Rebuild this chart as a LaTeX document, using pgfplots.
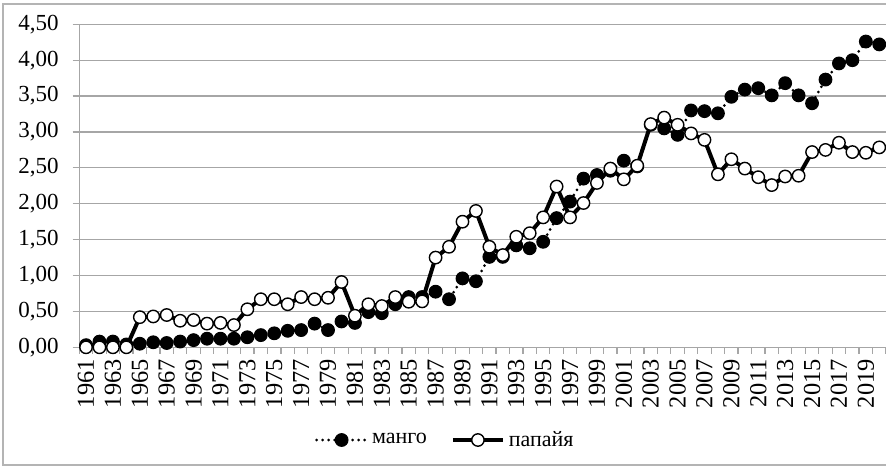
\documentclass[border=0pt]{standalone}
\usepackage{fontspec}
\setmainfont{Liberation Serif}
\usepackage{pgfplots}
\usepackage{pgfplotstable}
\pgfplotsset{compat=1.18}
\definecolor{gridgray}{RGB}{166,166,166}
\definecolor{framegray}{RGB}{180,180,180}
\pgfplotstableread{
year mango papaya
1961 0.03 0.00
1962 0.08 0.00
1963 0.08 0.00
1964 0.04 0.00
1965 0.05 0.42
1966 0.07 0.43
1967 0.06 0.45
1968 0.08 0.37
1969 0.10 0.38
1970 0.12 0.33
1971 0.12 0.34
1972 0.12 0.31
1973 0.14 0.53
1974 0.17 0.67
1975 0.195 0.67
1976 0.23 0.60
1977 0.24 0.70
1978 0.33 0.67
1979 0.24 0.69
1980 0.36 0.91
1981 0.34 0.44
1982 0.49 0.60
1983 0.475 0.575
1984 0.60 0.70
1985 0.70 0.635
1986 0.70 0.64
1987 0.775 1.25
1988 0.67 1.40
1989 0.96 1.75
1990 0.92 1.90
1991 1.26 1.40
1992 1.26 1.285
1993 1.42 1.54
1994 1.38 1.59
1995 1.47 1.81
1996 1.80 2.24
1997 2.03 1.81
1998 2.35 2.01
1999 2.40 2.29
2000 2.46 2.49
2001 2.60 2.34
2002 2.52 2.53
2003 3.10 3.11
2004 3.05 3.20
2005 2.96 3.10
2006 3.30 2.98
2007 3.29 2.89
2008 3.26 2.41
2009 3.49 2.62
2010 3.59 2.49
2011 3.61 2.37
2012 3.51 2.26
2013 3.68 2.38
2014 3.51 2.39
2015 3.40 2.72
2016 3.73 2.75
2017 3.955 2.85
2018 4.00 2.72
2019 4.26 2.71
2020 4.22 2.785
}\datatable
\begin{document}
\begin{tikzpicture}[font=\fontsize{11.5}{13.8}\selectfont]
\useasboundingbox (-39.65pt,-60.35pt) rectangle (403.35pt,173.65pt);
\draw[framegray, line width=0.6pt] (410pt,171.65pt) -- (-38.15pt,171.65pt) -- (-38.15pt,-58.85pt) -- (410pt,-58.85pt);
\begin{axis}[
  at={(0pt,0pt)}, anchor=south west,
  scale only axis, width=403.35pt, height=161.5pt,
  xmin=1960.5, xmax=2020.5, ymin=0, ymax=4.5,
  axis x line*=bottom, axis y line*=left,
  axis line style={gridgray, line width=0.6pt},
  ymajorgrids, grid style={gridgray, line width=0.6pt},
  tick align=outside, major tick length=3.3pt,
  tick style={gridgray, line width=0.6pt},
  ytick={0,0.5,1,1.5,2,2.5,3,3.5,4,4.5},
  /pgf/number format/assume math mode=true,
  yticklabel style={/pgf/number format/fixed, /pgf/number format/fixed zerofill, /pgf/number format/precision=2, /pgf/number format/use comma, font=\fontsize{11.5}{13.8}\selectfont, xshift=-3.5pt},
  xtick={1960.5,1961.5,...,2020.5}, xticklabels={,,},
  extra x ticks={1961,1963,1965,1967,1969,1971,1973,1975,1977,1979,1981,1983,1985,1987,1989,1991,1993,1995,1997,1999,2001,2003,2005,2007,2009,2011,2013,2015,2017,2019},
  extra x tick labels={1961,1963,1965,1967,1969,1971,1973,1975,1977,1979,1981,1983,1985,1987,1989,1991,1993,1995,1997,1999,2001,2003,2005,2007,2009,2011,2013,2015,2017,2019},
  extra x tick style={major tick length=0pt, xticklabel style={yshift=-2.5pt, rotate=90, anchor=east, font=\fontsize{12.2}{14}\selectfont}},
  legend image code/.code={\draw[mark repeat=2,mark phase=2,#1] plot coordinates {(0pt,0pt) (12.5pt,0pt) (25pt,0pt)};},
  legend style={at={(0.455,-0.287)}, anchor=center, draw=none, fill=none, legend columns=2, font=\fontsize{11}{13}\selectfont, /tikz/every even column/.append style={column sep=10pt}},
]
\addplot[black, line width=1.5pt, dash pattern=on 0pt off 3pt, line cap=round, mark=*, mark size=3.2pt, mark options={solid, fill=black, draw=black, line width=0.5pt}] table[x=year, y=mango] {\datatable};
\addlegendentry{манго}
\addplot[black, line width=2pt, mark=*, mark size=3.1pt, mark options={solid, fill=white, draw=black, line width=0.7pt}] table[x=year, y=papaya] {\datatable};
\addlegendentry{папайя}
\end{axis}
\end{tikzpicture}
\end{document}
